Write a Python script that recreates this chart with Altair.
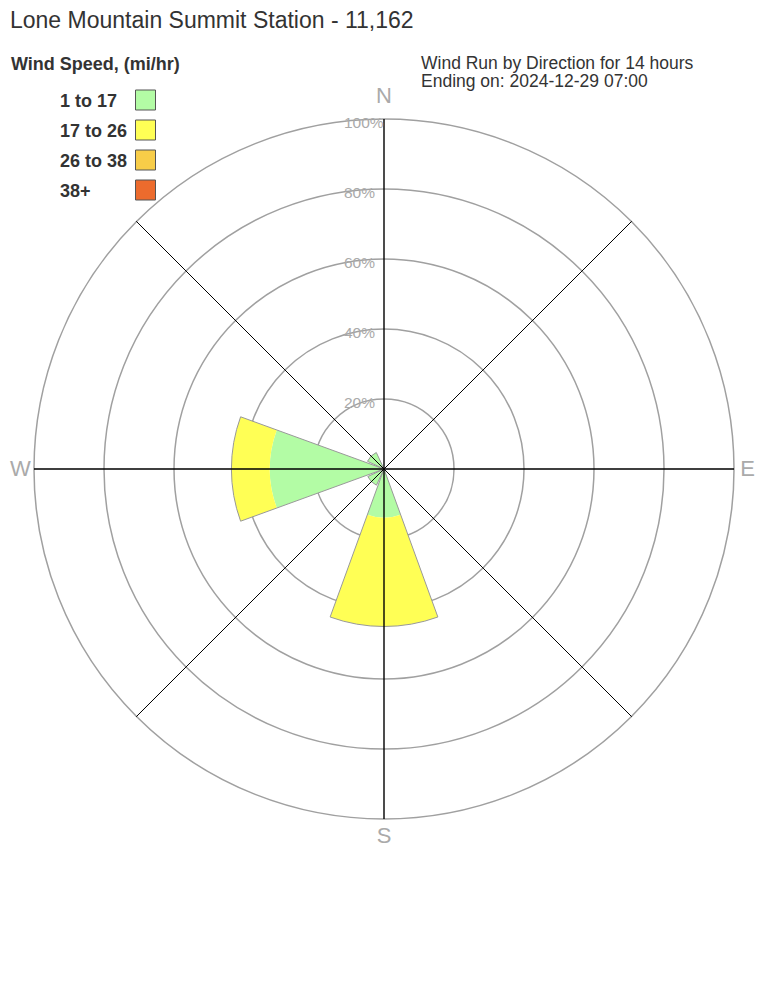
import math
import altair as alt
import pandas as pd

FONT = "Liberation Sans"

title_text = "Lone Mountain Summit Station - 11,162"
legend_title = "Wind Speed, (mi/hr)"
subtitle_lines = ["Wind Run by Direction for 14 hours", "Ending on: 2024-12-29 07:00"]

directions = ["NW", "SW", "W", "S"]
direction_bearings = [315, 225, 270, 180]
speed_bands = ["1 to 17", "17 to 26", "26 to 38", "38+"]
band_colors = ["#b3fca5", "#ffff55", "#f8cd48", "#ec6b2d"]
pct_1_17 = [5.2, 5.1, 32.6, 13.9]
pct_17_26 = [0.0, 0.0, 11.0, 31.1]
pct_26_38 = [0.0, 0.0, 0.0, 0.0]
pct_38_plus = [0.0, 0.0, 0.0, 0.0]

ring_pcts = [20, 40, 60, 80, 100]
ring_labels = ["20%", "40%", "60%", "80%", "100%"]
compass_labels = ["N", "E", "S", "W"]
compass_bearings = [0, 90, 180, 270]
cardinal_spokes = [0, 90, 180, 270]
diagonal_spokes = [45, 135, 225, 315]

# ---- tables built from the arrays above ----
band_values = [pct_1_17, pct_17_26, pct_26_38, pct_38_plus]
rows = []
totals = []
for i, d in enumerate(directions):
    start = 0.0
    for band, vals in zip(speed_bands, band_values):
        v = vals[i]
        if v > 0:
            rows.append({"dir": d, "bearing": direction_bearings[i], "band": band,
                         "r0": start, "r1": start + v})
            start += v
    totals.append({"dir": d, "bearing": direction_bearings[i], "total": start})
sectors_df = pd.DataFrame(rows)
outline_df = pd.DataFrame(totals)
rings_df = pd.DataFrame({"r": ring_pcts, "label": ring_labels})
compass_df = pd.DataFrame({"label": compass_labels, "bearing": compass_bearings})
card_df = pd.DataFrame({"b": cardinal_spokes})
diag_df = pd.DataFrame({"b": diagonal_spokes})
legend_df = pd.DataFrame({"band": speed_bands})

CX, CY = 376, 461
theta_scale = alt.Scale(domain=[0, 360], range=[0, 2 * math.pi])
r_scale = alt.Scale(type="linear", domain=[0, 100], range=[0, 350])
color_scale = alt.Scale(domain=speed_bands, range=band_colors)
legend_y = alt.Scale(type="point", domain=speed_bands, range=[92, 182], padding=0)

center = dict(x=alt.value(CX), y=alt.value(CY))

rings = alt.Chart(rings_df).transform_calculate(t0="0", t1="360").mark_arc(
    filled=False, stroke="#a0a0a0", strokeWidth=1.5
).encode(
    theta=alt.Theta("t0:Q", scale=theta_scale, stack=None),
    theta2="t1:Q",
    radius=alt.Radius("r:Q", scale=r_scale),
    **center,
)

sectors = alt.Chart(sectors_df).transform_calculate(
    a0="datum.bearing - 20", a1="datum.bearing + 20"
).mark_arc(strokeWidth=0).encode(
    theta=alt.Theta("a0:Q", scale=theta_scale, stack=None),
    theta2="a1:Q",
    radius=alt.Radius("r1:Q", scale=r_scale),
    radius2="r0:Q",
    color=alt.Color("band:N", scale=color_scale, legend=None),
    **center,
)

outlines = alt.Chart(outline_df).transform_calculate(
    a0="datum.bearing - 20", a1="datum.bearing + 20"
).mark_arc(filled=False, stroke="#999999", strokeWidth=1).encode(
    theta=alt.Theta("a0:Q", scale=theta_scale, stack=None),
    theta2="a1:Q",
    radius=alt.Radius("total:Q", scale=r_scale),
    **center,
)

card = alt.Chart(card_df).transform_calculate(r="100").mark_arc(
    filled=False, stroke="black", strokeWidth=1.4
).encode(
    theta=alt.Theta("b:Q", scale=theta_scale, stack=None),
    theta2="b:Q",
    radius=alt.Radius("r:Q", scale=r_scale),
    **center,
)

diag = alt.Chart(diag_df).transform_calculate(r="100").mark_arc(
    filled=False, stroke="black", strokeWidth=1
).encode(
    theta=alt.Theta("b:Q", scale=theta_scale, stack=None),
    theta2="b:Q",
    radius=alt.Radius("r:Q", scale=r_scale),
    **center,
)

pct_text = alt.Chart(rings_df).transform_calculate(t0="0").mark_text(
    align="left", baseline="middle", dx=-40, dy=4, fontSize=15.5, font=FONT, color="#aaaaaa"
).encode(
    theta=alt.Theta("t0:Q", scale=theta_scale, stack=None),
    radius=alt.Radius("r:Q", scale=r_scale),
    text="label:N",
    **center,
)

compass = alt.Chart(compass_df).transform_calculate(
    r="datum.label == 'N' ? 106.5 : (datum.label == 'S' ? 104.8 : 103.9)"
).mark_text(
    align="center", baseline="middle", fontSize=22, font=FONT, color="#aaaaaa"
).encode(
    theta=alt.Theta("bearing:Q", scale=theta_scale, stack=None),
    radius=alt.Radius("r:Q", scale=r_scale),
    text="label:N",
    **center,
)

title = alt.Chart(pd.DataFrame({"t": [title_text]})).mark_text(
    align="left", baseline="alphabetic", fontSize=23, font=FONT, color="#333333"
).encode(x=alt.value(2), y=alt.value(20), text="t:N")

leg_title = alt.Chart(pd.DataFrame({"t": [legend_title]})).mark_text(
    align="left", baseline="alphabetic", fontSize=18, fontWeight="bold", font=FONT, color="#333333"
).encode(x=alt.value(3), y=alt.value(62), text="t:N")

sub1 = alt.Chart(pd.DataFrame({"t": [subtitle_lines[0]]})).mark_text(
    align="left", baseline="alphabetic", fontSize=17.5, font=FONT, color="#333333"
).encode(x=alt.value(413), y=alt.value(61), text="t:N")

sub2 = alt.Chart(pd.DataFrame({"t": [subtitle_lines[1]]})).mark_text(
    align="left", baseline="alphabetic", fontSize=17.5, font=FONT, color="#333333"
).encode(x=alt.value(413), y=alt.value(79), text="t:N")

leg_sq = alt.Chart(legend_df).mark_square(size=400, opacity=1, stroke="#555555", strokeWidth=1).encode(
    x=alt.value(137.5),
    y=alt.Y("band:N", scale=legend_y, axis=None),
    color=alt.Color("band:N", scale=color_scale, legend=None),
)

leg_txt = alt.Chart(legend_df).mark_text(
    align="left", baseline="middle", dy=2, fontSize=18, fontWeight="bold", font=FONT, color="#333333"
).encode(
    x=alt.value(52),
    y=alt.Y("band:N", scale=legend_y, axis=None),
    text="band:N",
)

chart = alt.layer(
    rings, sectors, outlines, card, diag, pct_text, compass,
    title, leg_title, sub1, sub2, leg_sq, leg_txt,
).properties(
    width=752, height=985, padding=0, autosize="none", background="white"
).configure_view(strokeWidth=0)

chart.save("out.html", embed_options={"renderer": "svg", "actions": False})
